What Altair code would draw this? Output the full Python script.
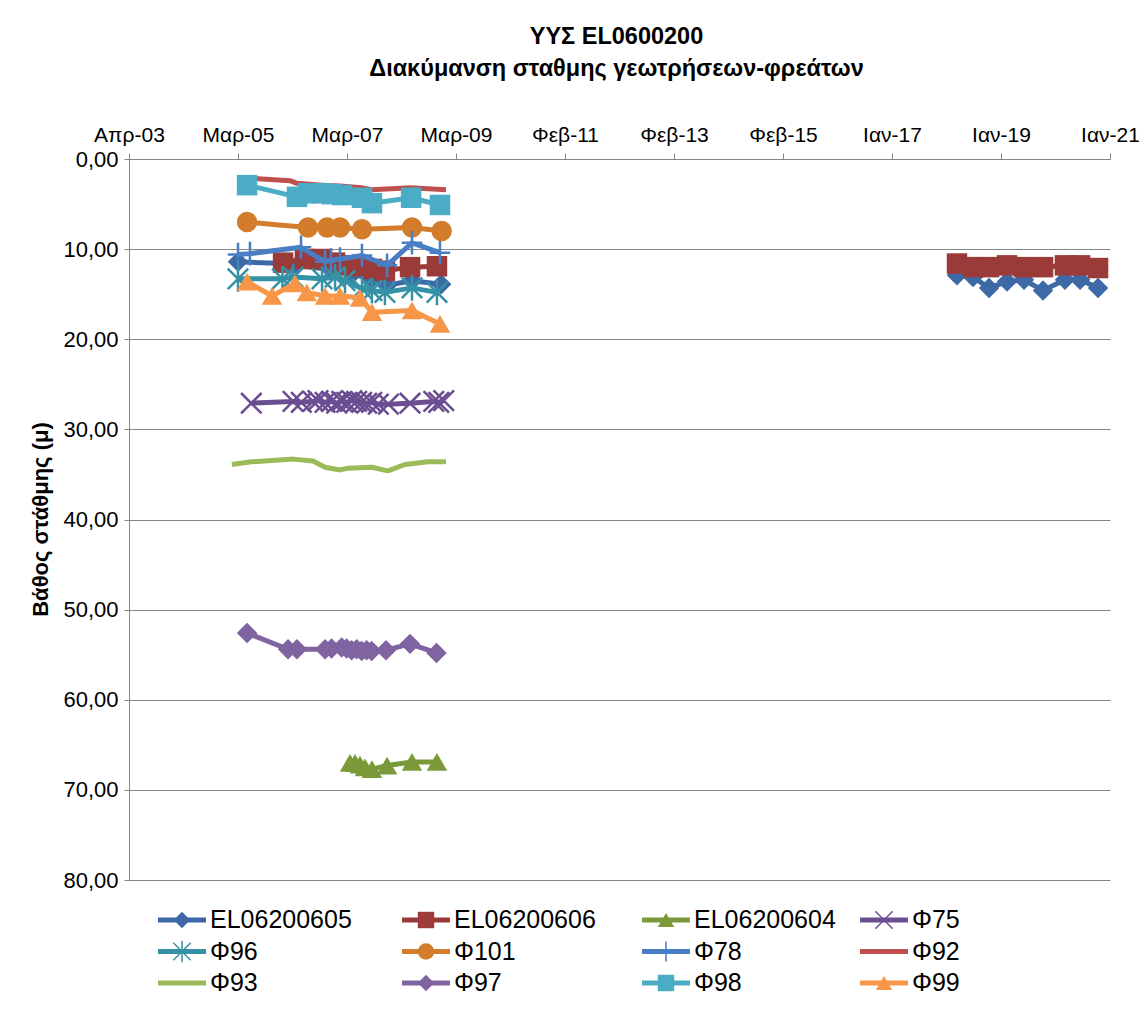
import altair as alt
import pandas as pd

# Depth to water level (m) per well, by measurement date
el605_dates = ["2005-03-22", "2006-01-14", "2006-04-16", "2006-11-27", "2007-04-15",
               "2007-08-25", "2007-12-03", "2008-05-16", "2008-11-25"]
el605_depth = [11.4, 11.6, 11.8, 12.3, 12.8, 13.3, 14.0, 13.5, 13.9]
el605_dates_b = ["2018-03-30", "2018-07-14", "2018-10-28", "2019-02-24", "2019-06-16",
                 "2019-10-20", "2020-03-13", "2020-06-21", "2020-10-18"]
el605_depth_b = [12.9, 13.1, 14.3, 13.6, 13.4, 14.6, 13.4, 13.4, 14.3]

el606_dates = ["2006-01-14", "2006-06-08", "2006-09-29", "2006-12-24", "2007-03-13",
               "2007-05-25", "2007-08-25", "2007-11-19", "2008-05-03", "2008-10-28"]
el606_depth = [11.5, 11.1, 11.1, 11.5, 11.8, 11.9, 12.2, 12.4, 12.0, 11.9]
el606_dates_b = el605_dates_b
el606_depth_b = [11.6, 12.0, 12.0, 11.8, 12.0, 12.0, 11.8, 11.8, 12.1]

el604_dates = ["2007-04-02", "2007-05-05", "2007-06-07", "2007-07-10", "2007-08-25",
               "2007-12-03", "2008-05-16", "2008-10-28"]
el604_depth = [67.0, 67.0, 67.2, 67.5, 67.7, 67.3, 66.9, 66.9]

f75_dates = ["2005-06-18", "2006-03-21", "2006-05-15", "2006-07-31", "2006-09-02",
             "2006-10-19", "2006-12-01", "2007-01-04", "2007-02-06", "2007-03-11",
             "2007-04-13", "2007-05-16", "2007-06-18", "2007-07-21", "2007-08-23",
             "2007-10-06", "2007-12-12", "2008-05-03", "2008-10-07", "2008-11-09",
             "2008-12-12"]
f75_depth = [27.1, 26.9, 27.0, 26.9, 26.8, 27.0, 26.9, 27.1, 26.9, 27.0, 26.8, 26.9,
             27.0, 27.1, 27.0, 27.2, 27.2, 27.1, 26.9, 27.0, 26.8]

f96_dates = ["2005-03-22", "2006-01-10", "2006-03-21", "2006-09-29", "2006-12-24",
             "2007-02-28", "2007-06-20", "2007-08-25", "2007-11-19", "2008-05-16",
             "2008-10-28"]
f96_depth = [13.3, 13.3, 13.1, 13.3, 13.1, 13.5, 14.4, 14.6, 14.8, 14.3, 14.8]

f101_dates = ["2005-05-21", "2006-06-28", "2006-11-01", "2007-01-26", "2007-06-20",
              "2008-05-16", "2008-11-28"]
f101_depth = [7.0, 7.6, 7.6, 7.6, 7.8, 7.6, 8.0]

f78_dates = ["2005-03-22", "2005-06-09", "2006-05-13", "2006-10-19", "2006-11-27",
             "2007-01-26", "2007-06-20", "2007-12-03", "2008-05-16", "2008-11-17"]
f78_depth = [10.6, 10.5, 9.8, 11.4, 11.2, 11.1, 10.7, 11.8, 9.3, 10.4]

f92_dates = ["2005-05-01", "2006-03-01", "2006-04-16", "2006-09-29", "2007-01-26",
             "2007-06-20", "2007-08-25", "2008-05-03", "2008-12-27"]
f92_depth = [2.1, 2.4, 2.7, 2.9, 3.0, 3.2, 3.4, 3.2, 3.4]

f93_dates = ["2005-02-10", "2005-06-18", "2006-03-21", "2006-07-31", "2006-10-19",
             "2007-01-26", "2007-03-20", "2007-08-25", "2007-12-09", "2008-03-31",
             "2008-08-30", "2008-12-27"]
f93_depth = [33.9, 33.6, 33.3, 33.5, 34.2, 34.5, 34.3, 34.2, 34.6, 33.9, 33.6, 33.6]

f97_dates = ["2005-05-21", "2006-02-16", "2006-04-16", "2006-10-19", "2006-12-01",
             "2007-02-06", "2007-03-11", "2007-04-13", "2007-05-16", "2007-06-18",
             "2007-07-21", "2007-08-23", "2007-11-26", "2008-05-03", "2008-10-25"]
f97_depth = [52.6, 54.4, 54.4, 54.4, 54.3, 54.2, 54.3, 54.5, 54.4, 54.6, 54.5, 54.6,
             54.5, 53.8, 54.8]

f98_dates = ["2005-05-21", "2006-04-16", "2006-06-28", "2006-09-29", "2006-12-04",
             "2007-02-08", "2007-06-20", "2007-08-25", "2008-05-10", "2008-11-17"]
f98_depth = [2.9, 4.2, 3.8, 3.8, 3.9, 4.0, 4.3, 4.9, 4.3, 5.1]

f99_dates = ["2005-05-21", "2005-11-02", "2006-04-03", "2006-06-20", "2006-10-19",
             "2007-01-26", "2007-06-07", "2007-08-25", "2008-05-16", "2008-11-17"]
f99_depth = [13.6, 15.2, 13.8, 14.8, 15.2, 15.2, 15.4, 17.0, 16.8, 18.3]

series_names = ["EL06200605", "EL06200606", "EL06200604", "Φ75", "Φ96", "Φ101",
                "Φ78", "Φ92", "Φ93", "Φ97", "Φ98", "Φ99"]
series_colors = ["#3D6AA6", "#9B3B39", "#7A9A3A", "#6B4E92", "#3592A6", "#D27C2C",
                 "#4A7EC4", "#C0504D", "#9BBB59", "#8064A2", "#4BACC6", "#F79646"]
series_markers = ["diamond", "square", "triangle", "x", "asterisk", "circle",
                  "plus", "none", "none", "diamond", "square", "triangle"]

series_data = {
    "EL06200605": [(el605_dates, el605_depth), (el605_dates_b, el605_depth_b)],
    "EL06200606": [(el606_dates, el606_depth), (el606_dates_b, el606_depth_b)],
    "EL06200604": [(el604_dates, el604_depth)],
    "Φ75": [(f75_dates, f75_depth)],
    "Φ96": [(f96_dates, f96_depth)],
    "Φ101": [(f101_dates, f101_depth)],
    "Φ78": [(f78_dates, f78_depth)],
    "Φ92": [(f92_dates, f92_depth)],
    "Φ93": [(f93_dates, f93_depth)],
    "Φ97": [(f97_dates, f97_depth)],
    "Φ98": [(f98_dates, f98_depth)],
    "Φ99": [(f99_dates, f99_depth)],
}

rows = []
for name, parts in series_data.items():
    for seg, (dates, depths) in enumerate(parts):
        for d, v in zip(dates, depths):
            rows.append({"series": name, "date": d, "depth": v, "seg": seg})
df = pd.DataFrame(rows)

# Marker glyphs (filled built-ins and stroked custom paths)
glyphs = {
    "diamond": "diamond",
    "square": "square",
    "triangle": "triangle-up",
    "circle": "circle",
    "x": "M-1,-1L1,1M-1,1L1,-1",
    "asterisk": "M-1,-1L1,1M-1,1L1,-1M0,-1.25L0,1.25",
    "plus": "M-1,0L1,0M0,-1.15L0,1.15",
    "none": "circle",
}
stroked = {"x", "asterisk", "plus"}

color_scale = alt.Scale(domain=series_names, range=series_colors)
shape_scale = alt.Scale(domain=series_names, range=[glyphs[m] for m in series_markers])

FONT = "Liberation Sans"
GREY = "#868686"

# Time axis: ticks every 721 days from April 2003
x_start = pd.Timestamp("2003-04-01")
tick_dates = [x_start + pd.Timedelta(days=721 * k) for k in range(10)]
tick_ms = [int(t.value // 10**6) for t in tick_dates]

greek_months = "['Ιαν','Φεβ','Μαρ','Απρ','Μαϊ','Ιουν','Ιουλ','Αυγ','Σεπ','Οκτ','Νοε','Δεκ']"

x_enc = alt.X(
    "date:T",
    scale=alt.Scale(type="utc", domain=[tick_ms[0], tick_ms[-1]], nice=False),
    axis=alt.Axis(
        orient="top", values=tick_ms, title=None, grid=False,
        labelExpr=greek_months + "[utcmonth(datum.value)] + '-' + utcFormat(datum.value, '%y')",
        labelFontSize=21, labelColor="black", labelPadding=8,
        tickSize=6, tickColor=GREY, domainColor=GREY, labelFlush=False,
    ),
)
y_enc = alt.Y(
    "depth:Q",
    scale=alt.Scale(domain=[0, 80], reverse=True, nice=False, zero=False),
    axis=alt.Axis(
        values=list(range(0, 81, 10)), title="Βάθος στάθμης (μ)",
        labelExpr="replace(format(datum.value, '.2f'), '.', ',')",
        labelFontSize=22, labelColor="black", labelPadding=6,
        tickSize=5, tickColor=GREY, domainColor=GREY,
        grid=True, gridColor=GREY, gridWidth=1,
        titleFontSize=22, titleFontWeight="bold", titleColor="black",
        titleAngle=270, titleX=-89, titleY=360, titleBaseline="middle",
        titleAlign="center",
    ),
)
color_enc = alt.Color("series:N", scale=color_scale, legend=None)
shape_enc = alt.Shape("series:N", scale=shape_scale, legend=None)

base = alt.Chart(df).encode(x=x_enc, y=y_enc, color=color_enc)

# Each well: its line, then its markers on top
series_layers = []
for name, marker in zip(series_names, series_markers):
    sel = base.transform_filter(alt.datum.series == name)
    series_layers.append(
        sel.mark_line(strokeWidth=5, strokeJoin="round").encode(detail="seg:N")
    )
    if marker == "none":
        continue
    if marker in stroked:
        series_layers.append(
            sel.mark_point(filled=False, strokeWidth=2.5, opacity=1, size=420).encode(shape=shape_enc)
        )
    else:
        series_layers.append(
            sel.mark_point(filled=True, opacity=1, size=420, strokeWidth=0).encode(shape=shape_enc)
        )
main = alt.layer(*series_layers)

# Legend: four columns, three rows beneath the plot
legend_df = pd.DataFrame({"series": series_names, "idx": list(range(len(series_names))),
                          "marker": series_markers})
leg = alt.Chart(legend_df).transform_calculate(
    col="datum.idx % 4",
    row="floor(datum.idx / 4)",
).transform_calculate(
    x0="[29, 273, 513, 731][datum.col]",
    y0="761 + datum.row * 31.5",
).transform_calculate(
    x1="datum.x0 + 48",
    xm="datum.x0 + 24",
    xt="datum.x0 + 52",
)
lx = lambda f: alt.X(f, scale=None, axis=None)
ly = alt.Y("y0:Q", scale=None, axis=None)
leg_line = leg.mark_rule(strokeWidth=5).encode(
    x=lx("x0:Q"), x2="x1:Q", y=ly, color=color_enc)
leg_fill = leg.transform_filter(
    alt.FieldOneOfPredicate(field="marker", oneOf=["diamond", "square", "triangle", "circle"])
).mark_point(filled=True, opacity=1, size=270, strokeWidth=0).encode(
    x=lx("xm:Q"), y=ly, color=color_enc, shape=shape_enc)
leg_stroke = leg.transform_filter(
    alt.FieldOneOfPredicate(field="marker", oneOf=["x", "asterisk", "plus"])
).mark_point(filled=False, opacity=1, size=300, strokeWidth=1.5).encode(
    x=lx("xm:Q"), y=ly, color=color_enc, shape=shape_enc)
leg_text = leg.mark_text(align="left", baseline="middle", fontSize=25, font=FONT,
                         color="black").encode(x=lx("xt:Q"), y=ly, text="series:N")
legend = alt.layer(leg_line, leg_fill, leg_stroke, leg_text)

chart = alt.layer(main, legend).resolve_scale(
    x="independent", y="independent"
).properties(
    width=981,
    height=721,
    padding={"left": 129, "top": 159, "right": 29, "bottom": 138},
    autosize=alt.AutoSizeParams(type="none"),
    background="white",
    title=alt.TitleParams(
        text=["ΥΥΣ EL0600200", "Διακύμανση σταθμης γεωτρήσεων-φρεάτων"],
        fontSize=23.5, fontWeight="bold", font=FONT, color="black",
        anchor="middle", frame="group", dx=-3, offset=44, lineHeight=32,
    ),
).configure_view(
    strokeWidth=0
).configure_axis(
    labelFont=FONT, titleFont=FONT
)

chart.save("out.html", embed_options={"renderer": "svg", "actions": False})
